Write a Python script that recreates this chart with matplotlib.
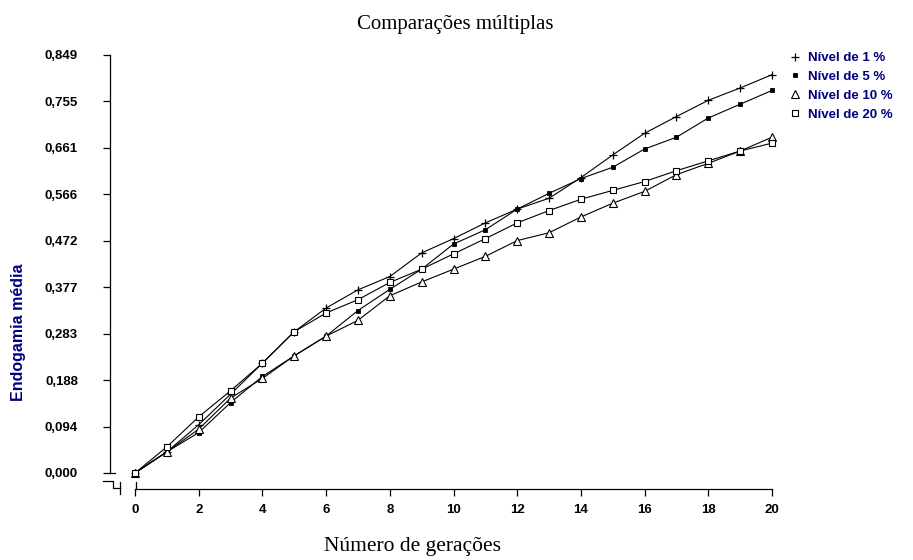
import matplotlib.pyplot as plt
from matplotlib.lines import Line2D

# --- data ---
geracoes = list(range(0, 21))
nivel_1 = [0.000, 0.043, 0.098, 0.160, 0.223, 0.287, 0.335, 0.372, 0.399, 0.447, 0.476,
           0.508, 0.536, 0.558, 0.600, 0.646, 0.690, 0.724, 0.757, 0.782, 0.809]
nivel_5 = [0.000, 0.043, 0.082, 0.143, 0.196, 0.238, 0.278, 0.330, 0.373, 0.414, 0.465,
           0.494, 0.536, 0.568, 0.598, 0.621, 0.658, 0.682, 0.721, 0.749, 0.777]
nivel_10 = [0.000, 0.043, 0.089, 0.152, 0.192, 0.238, 0.278, 0.310, 0.360, 0.388, 0.414,
            0.440, 0.472, 0.488, 0.520, 0.548, 0.572, 0.606, 0.629, 0.654, 0.682]
nivel_20 = [0.000, 0.053, 0.114, 0.167, 0.223, 0.287, 0.325, 0.352, 0.387, 0.414, 0.445,
            0.476, 0.508, 0.533, 0.556, 0.574, 0.592, 0.614, 0.634, 0.654, 0.670]
legendas = ["Nível de 1 %", "Nível de 5 %", "Nível de 10 %", "Nível de 20 %"]
y_ticks = [0.000, 0.094, 0.188, 0.283, 0.377, 0.472, 0.566, 0.661, 0.755, 0.849]
x_ticks = list(range(0, 21, 2))

W, H = 913, 560
NAVY = "#00007f"
SANS = ["Liberation Sans", "DejaVu Sans"]
SERIF = ["Liberation Serif", "DejaVu Serif"]


def fx(x):
    return x / W


def fy(y):
    return 1 - y / H


fig = plt.figure(figsize=(W / 100, H / 100), dpi=100)
# axes box in pixels: left 110, right 772, top 55, bottom 488.5
ax = fig.add_axes([fx(110), fy(488.5), (772 - 110) / W, (488.5 - 55) / H])
ax.set_xlim(-25 / 31.85, 20)
ax.set_ylim(-15.5 / 492, 0.849)

estilos = [
    dict(marker="+", ms=6, mew=0.9, mfc="none"),
    dict(marker="s", ms=2.6, mew=0.6, mfc="black"),
    dict(marker="^", ms=5.5, mew=0.8, mfc="white"),
    dict(marker="s", ms=4.5, mew=0.8, mfc="white"),
]
series = [nivel_1, nivel_5, nivel_10, nivel_20]
handles = []
for vals, st in zip(series, estilos):
    ax.plot(geracoes, vals, color="black", lw=0.8, mec="black", clip_on=False, **st)
    handles.append(Line2D([], [], ls="none", color="black", mec="black", **st))

for s in ["top", "right"]:
    ax.spines[s].set_visible(False)
ax.spines["left"].set_bounds(0, 0.849)
ax.spines["bottom"].set_bounds(0, 20)
ax.spines["left"].set_linewidth(0.9)
ax.spines["bottom"].set_linewidth(0.9)

ax.set_yticks(y_ticks)
ax.set_yticklabels([f"{v:.3f}".replace(".", ",") for v in y_ticks])
ax.set_xticks(x_ticks)
ax.tick_params(direction="out", length=5, width=0.9, pad=18)
ax.tick_params(axis="x", pad=6)
for lab in ax.get_xticklabels() + ax.get_yticklabels():
    lab.set_fontfamily(SANS)
    lab.set_fontweight("bold")
    lab.set_fontsize(9.5)

# axis break marks and the extended zero ticks
quebras = [
    ([103, 113, 113, 120], [481, 481, 488.3, 488.3]),
    ([120, 120], [481.7, 493.5]),
    ([135.5, 135.5], [481.5, 488.5]),
    ([110, 115], [473, 473]),
]
for xs, ys in quebras:
    fig.add_artist(Line2D([fx(v) for v in xs], [fy(v) for v in ys],
                          transform=fig.transFigure, color="black", lw=0.9))

fig.text(fx(455), fy(25), "Comparações múltiplas", ha="center", va="center",
         fontsize=15, family=SERIF)
fig.text(fx(413), fy(547), "Número de gerações", ha="center", va="center",
         fontsize=15.5, family=SERIF)
fig.text(fx(18), fy(332), "Endogamia média", ha="center", va="center",
         rotation=90, fontsize=11.5, fontweight="bold", family=SANS, color=NAVY)

leg = fig.legend(handles, legendas, loc="upper left",
                 bbox_to_anchor=(fx(789), fy(52)), frameon=False,
                 handlelength=0.9, handletextpad=0.55, labelspacing=0.5,
                 borderaxespad=0, borderpad=0,
                 prop=dict(family=SANS, weight="bold", size=9.5))
for t in leg.get_texts():
    t.set_color(NAVY)

fig.savefig("out.png", dpi=100)
